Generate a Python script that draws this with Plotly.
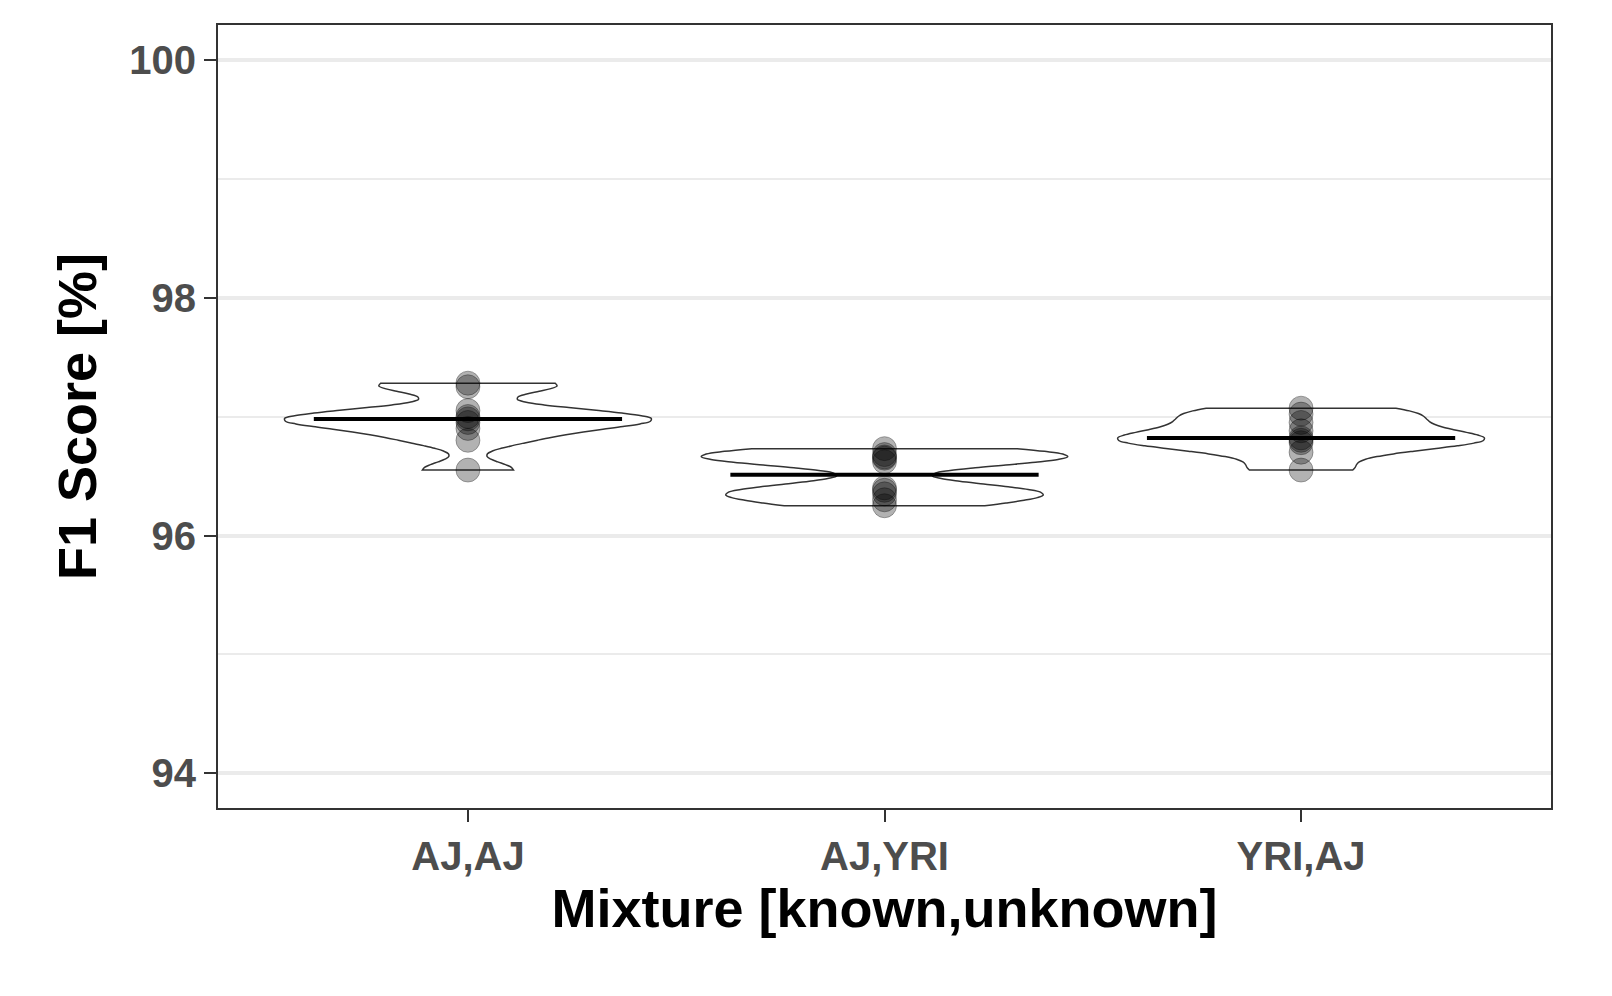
import numpy as np
import plotly.graph_objects as go

categories = ["AJ,AJ", "AJ,YRI", "YRI,AJ"]
aj_aj = [97.28, 97.25, 97.05, 97.0, 96.98, 96.95, 96.9, 96.8, 96.55]
aj_yri = [96.73, 96.68, 96.66, 96.65, 96.62, 96.4, 96.38, 96.35, 96.3, 96.25]
yri_aj = [97.07, 97.02, 96.95, 96.88, 96.82, 96.8, 96.78, 96.7, 96.55]
series = [aj_aj, aj_yri, yri_aj]

bold = dict(size=40, color="#4d4d4d", family="Liberation Sans, Arial", weight="bold")

fig = go.Figure()
for i, vals in enumerate(series):
    fig.add_trace(go.Violin(
        x=[i] * len(vals), y=vals, spanmode="hard", bandwidth=0.07,
        width=0.88, scalemode="width", line=dict(color="#333333", width=1.5),
        fillcolor="white", points=False, box_visible=False, meanline_visible=False,
        hoverinfo="skip", showlegend=False))
    fig.add_trace(go.Scatter(
        x=[i] * len(vals), y=vals, mode="markers",
        marker=dict(size=24, color="rgba(0,0,0,0.3)", line=dict(width=1, color="rgba(0,0,0,0.3)")),
        showlegend=False))
    m = float(np.median(vals))
    fig.add_trace(go.Scatter(x=[i - 0.37, i + 0.37], y=[m, m], mode="lines",
                             line=dict(color="black", width=4), showlegend=False))

fig.update_layout(
    width=1612, height=996, plot_bgcolor="white", paper_bgcolor="white",
    margin=dict(l=210, r=69, t=17, b=196),
    font=dict(family="Liberation Sans, Arial", color="black"),
    xaxis=dict(range=[-0.6, 2.6], tickvals=[0, 1, 2], ticktext=categories,
               showgrid=False, zeroline=False, showline=True, mirror=True,
               linecolor="#333333", linewidth=2, ticks="outside", ticklen=12,
               tickwidth=2, tickcolor="#333333", tickfont=bold,
               title=dict(text="<b>Mixture [known,unknown]</b>", font=dict(size=54), standoff=10)),
    yaxis=dict(range=[93.71, 100.29], tickvals=[94, 96, 98, 100],
               showgrid=True, gridcolor="#ebebeb", gridwidth=4, zeroline=False,
               minor=dict(tickvals=[95, 97, 99], showgrid=True, gridcolor="#ebebeb", gridwidth=2),
               showline=True, mirror=True, linecolor="#333333", linewidth=2,
               ticks="outside", ticklen=12, tickwidth=2, tickcolor="#333333",
               tickfont=bold,
               title=dict(text="<b>F1 Score [%]</b>", font=dict(size=54), standoff=15)),
)
fig.write_html("out.html")
